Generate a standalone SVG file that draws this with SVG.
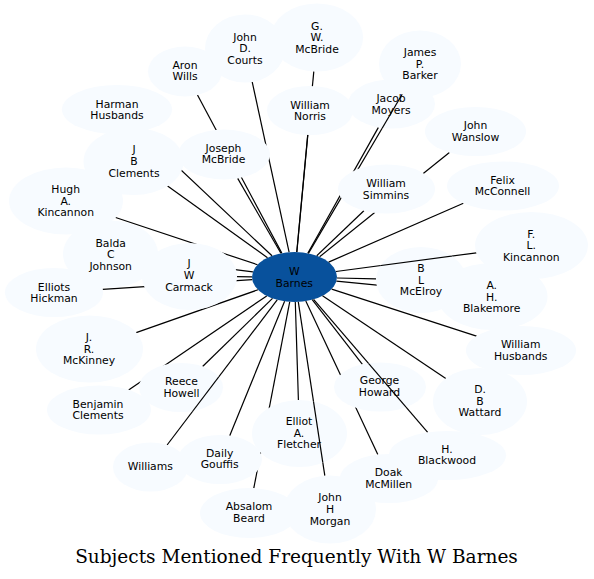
<svg xmlns="http://www.w3.org/2000/svg" width="594" height="579" viewBox="0 0 594 579">
<style>
.nb{fill:#f7fbff;stroke:none}
.hub{fill:#08519c;stroke:none}
.lbl{font-family:"DejaVu Sans","Liberation Sans",sans-serif;font-size:10.8px;fill:#000;text-anchor:middle}
.edge{stroke:#000;stroke-width:1.2;fill:none}
.title{font-family:"DejaVu Serif","Liberation Serif",serif;font-size:18.5px;fill:#000;text-anchor:middle}
</style>
<defs>
<g id="holes">
<ellipse id="h-gwm" cx="317" cy="37.5" rx="46" ry="34"/>
<ellipse id="h-courts" cx="245" cy="48.5" rx="40" ry="34"/>
<ellipse id="h-aron" cx="185" cy="71.5" rx="37" ry="25"/>
<ellipse id="h-barker" cx="420" cy="64" rx="41" ry="33.5"/>
<ellipse id="h-norris" cx="310" cy="110.5" rx="43" ry="24.5"/>
<ellipse id="h-jacob" cx="391.5" cy="104" rx="43.5" ry="24.5"/>
<ellipse id="h-harman" cx="117" cy="109.5" rx="55" ry="24.5"/>
<ellipse id="h-jmcb" cx="224" cy="154.5" rx="46" ry="25"/>
<ellipse id="h-jbc" cx="133.5" cy="161.5" rx="50" ry="33.5"/>
<ellipse id="h-wanslow" cx="475.5" cy="131.5" rx="50.5" ry="24.5"/>
<ellipse id="h-simmins" cx="386.5" cy="189" rx="48.5" ry="24.5"/>
<ellipse id="h-felix" cx="503" cy="186" rx="56" ry="24.5"/>
<ellipse id="h-hugh" cx="66" cy="201" rx="57" ry="33.5"/>
<ellipse id="h-balda" cx="110.5" cy="254" rx="47.5" ry="33.5"/>
<ellipse id="h-carmack" cx="189.5" cy="276.5" rx="47.5" ry="33.5"/>
<ellipse id="h-hickman" cx="54" cy="292.5" rx="49" ry="24.5"/>
<ellipse id="h-flk" cx="531.5" cy="245.5" rx="56.5" ry="33.5"/>
<ellipse id="h-mcelroy" cx="421" cy="280" rx="45" ry="33"/>
<ellipse id="h-blakemore" cx="492.5" cy="296.5" rx="55" ry="33.5"/>
<ellipse id="h-whusb" cx="521" cy="350.5" rx="55" ry="24.5"/>
<ellipse id="h-mckinney" cx="89.5" cy="349" rx="53.5" ry="33.5"/>
<ellipse id="h-reece" cx="181" cy="387.5" rx="42" ry="24.5"/>
<ellipse id="h-benj" cx="99" cy="410" rx="52" ry="24.5"/>
<ellipse id="h-ghoward" cx="380" cy="387" rx="46" ry="24.5"/>
<ellipse id="h-wattard" cx="480" cy="401.5" rx="47" ry="33.5"/>
<ellipse id="h-fletcher" cx="299.5" cy="433.5" rx="47.5" ry="33.5"/>
<ellipse id="h-blackwood" cx="447.5" cy="455.5" rx="58.5" ry="24.5"/>
<ellipse id="h-williams" cx="150.5" cy="467" rx="37.5" ry="24.5"/>
<ellipse id="h-gouffis" cx="220" cy="459.5" rx="42" ry="24.5"/>
<ellipse id="h-doak" cx="389" cy="478.5" rx="49" ry="24.5"/>
<ellipse id="h-absalom" cx="249" cy="513" rx="49" ry="25"/>
<ellipse id="h-morgan" cx="330" cy="509.5" rx="46" ry="34"/>
</g>
<mask id="m-all" maskUnits="userSpaceOnUse" x="0" y="0" width="594" height="579"><rect width="594" height="579" fill="#fff"/><use href="#holes" fill="#000"/></mask>
<mask id="m-jacob" maskUnits="userSpaceOnUse" x="0" y="0" width="594" height="579"><rect width="594" height="579" fill="#fff"/><use href="#holes" fill="#000"/><use href="#h-jacob" fill="#fff"/></mask>
<mask id="m-mcelroy" maskUnits="userSpaceOnUse" x="0" y="0" width="594" height="579"><rect width="594" height="579" fill="#fff"/><use href="#holes" fill="#000"/><use href="#h-mcelroy" fill="#fff"/></mask>
<mask id="m-ghoward" maskUnits="userSpaceOnUse" x="0" y="0" width="594" height="579"><rect width="594" height="579" fill="#fff"/><use href="#holes" fill="#000"/><use href="#h-ghoward" fill="#fff"/></mask>
<mask id="m-fletcher" maskUnits="userSpaceOnUse" x="0" y="0" width="594" height="579"><rect width="594" height="579" fill="#fff"/><use href="#holes" fill="#000"/><use href="#h-fletcher" fill="#fff"/></mask>
<mask id="m-reece" maskUnits="userSpaceOnUse" x="0" y="0" width="594" height="579"><rect width="594" height="579" fill="#fff"/><use href="#holes" fill="#000"/><use href="#h-reece" fill="#fff"/></mask>
</defs>
<rect width="594" height="579" fill="#fff"/>

<g id="n-gwm"><ellipse class="nb" cx="317" cy="37.5" rx="46" ry="34"/><text class="lbl"><tspan x="317" y="29.6">G.</tspan><tspan x="317" y="41.3">W.</tspan><tspan x="317" y="53">McBride</tspan></text></g>
<g id="n-courts"><ellipse class="nb" cx="245" cy="48.5" rx="40" ry="34"/><text class="lbl"><tspan x="245" y="40.6">John</tspan><tspan x="245" y="52.3">D.</tspan><tspan x="245" y="64">Courts</tspan></text></g>
<g id="n-aron"><ellipse class="nb" cx="185" cy="71.5" rx="37" ry="25"/><text class="lbl"><tspan x="185" y="68.7">Aron</tspan><tspan x="185" y="80.4">Wills</tspan></text></g>
<g id="n-barker"><ellipse class="nb" cx="420" cy="64" rx="41" ry="33.5"/><text class="lbl"><tspan x="420" y="55.9">James</tspan><tspan x="420" y="67.6">P.</tspan><tspan x="420" y="79.3">Barker</tspan></text></g>
<g id="n-norris"><ellipse class="nb" cx="310" cy="110.5" rx="43" ry="24.5"/><text class="lbl"><tspan x="310" y="108.5">William</tspan><tspan x="310" y="120.2">Norris</tspan></text></g>
<g id="n-jacob"><ellipse class="nb" cx="391.5" cy="104" rx="43.5" ry="24.5"/><text class="lbl"><tspan x="391" y="102">Jacob</tspan><tspan x="391" y="113.7">Moyers</tspan></text></g>
<g id="n-harman"><ellipse class="nb" cx="117" cy="109.5" rx="55" ry="24.5"/><text class="lbl"><tspan x="117" y="107.7">Harman</tspan><tspan x="117" y="119.4">Husbands</tspan></text></g>
<g id="n-jmcb"><ellipse class="nb" cx="224" cy="154.5" rx="46" ry="25"/><text class="lbl"><tspan x="223.5" y="151.5">Joseph</tspan><tspan x="223.5" y="163.2">McBride</tspan></text></g>
<g id="n-jbc"><ellipse class="nb" cx="133.5" cy="161.5" rx="50" ry="33.5"/><text class="lbl"><tspan x="134" y="153.4">J</tspan><tspan x="134" y="165.1">B</tspan><tspan x="134" y="176.8">Clements</tspan></text></g>
<g id="n-wanslow"><ellipse class="nb" cx="475.5" cy="131.5" rx="50.5" ry="24.5"/><text class="lbl"><tspan x="475.5" y="129">John</tspan><tspan x="475.5" y="140.7">Wanslow</tspan></text></g>
<g id="n-simmins"><ellipse class="nb" cx="386.5" cy="189" rx="48.5" ry="24.5"/><text class="lbl"><tspan x="386" y="186.9">William</tspan><tspan x="386" y="198.6">Simmins</tspan></text></g>
<g id="n-felix"><ellipse class="nb" cx="503" cy="186" rx="56" ry="24.5"/><text class="lbl"><tspan x="502.5" y="183.7">Felix</tspan><tspan x="502.5" y="195.4">McConnell</tspan></text></g>
<g id="n-hugh"><ellipse class="nb" cx="66" cy="201" rx="57" ry="33.5"/><text class="lbl"><tspan x="65.7" y="193">Hugh</tspan><tspan x="65.7" y="204.7">A.</tspan><tspan x="65.7" y="216.4">Kincannon</tspan></text></g>
<g id="n-balda"><ellipse class="nb" cx="110.5" cy="254" rx="47.5" ry="33.5"/><text class="lbl"><tspan x="110.7" y="246.6">Balda</tspan><tspan x="110.7" y="258.3">C</tspan><tspan x="110.7" y="270">Johnson</tspan></text></g>
<g id="n-carmack"><ellipse class="nb" cx="189.5" cy="276.5" rx="47.5" ry="33.5"/><text class="lbl"><tspan x="189" y="267.4">J</tspan><tspan x="189" y="279.1">W</tspan><tspan x="189" y="290.8">Carmack</tspan></text></g>
<g id="n-hickman"><ellipse class="nb" cx="54" cy="292.5" rx="49" ry="24.5"/><text class="lbl"><tspan x="54" y="290.7">Elliots</tspan><tspan x="54" y="302.4">Hickman</tspan></text></g>
<g id="n-flk"><ellipse class="nb" cx="531.5" cy="245.5" rx="56.5" ry="33.5"/><text class="lbl"><tspan x="531.3" y="237.6">F.</tspan><tspan x="531.3" y="249.3">L.</tspan><tspan x="531.3" y="261">Kincannon</tspan></text></g>
<g id="n-blakemore"><ellipse class="nb" cx="492.5" cy="296.5" rx="55" ry="33.5"/><text class="lbl"><tspan x="491.7" y="288.8">A.</tspan><tspan x="491.7" y="300.5">H.</tspan><tspan x="491.7" y="312.2">Blakemore</tspan></text></g>
<g id="n-mcelroy"><ellipse class="nb" cx="421" cy="280" rx="45" ry="33"/><text class="lbl"><tspan x="421" y="271.8">B</tspan><tspan x="421" y="283.5">L</tspan><tspan x="421" y="295.2">McElroy</tspan></text></g>
<g id="n-whusb"><ellipse class="nb" cx="521" cy="350.5" rx="55" ry="24.5"/><text class="lbl"><tspan x="520.7" y="348.3">William</tspan><tspan x="520.7" y="360">Husbands</tspan></text></g>
<g id="n-mckinney"><ellipse class="nb" cx="89.5" cy="349" rx="53.5" ry="33.5"/><text class="lbl"><tspan x="89" y="340.9">J.</tspan><tspan x="89" y="352.6">R.</tspan><tspan x="89" y="364.3">McKinney</tspan></text></g>
<g id="n-reece"><ellipse class="nb" cx="181" cy="387.5" rx="42" ry="24.5"/><text class="lbl"><tspan x="181.5" y="385">Reece</tspan><tspan x="181.5" y="396.7">Howell</tspan></text></g>
<g id="n-benj"><ellipse class="nb" cx="99" cy="410" rx="52" ry="24.5"/><text class="lbl"><tspan x="98" y="407.5">Benjamin</tspan><tspan x="98" y="419.2">Clements</tspan></text></g>
<g id="n-ghoward"><ellipse class="nb" cx="380" cy="387" rx="46" ry="24.5"/><text class="lbl"><tspan x="379.5" y="383.8">George</tspan><tspan x="379.5" y="395.5">Howard</tspan></text></g>
<g id="n-wattard"><ellipse class="nb" cx="480" cy="401.5" rx="47" ry="33.5"/><text class="lbl"><tspan x="480" y="393">D.</tspan><tspan x="480" y="404.7">B</tspan><tspan x="480" y="416.4">Wattard</tspan></text></g>
<g id="n-fletcher"><ellipse class="nb" cx="299.5" cy="433.5" rx="47.5" ry="33.5"/><text class="lbl"><tspan x="299" y="424.9">Elliot</tspan><tspan x="299" y="436.6">A.</tspan><tspan x="299" y="448.3">Fletcher</tspan></text></g>
<g id="n-doak"><ellipse class="nb" cx="389" cy="478.5" rx="49" ry="24.5"/><text class="lbl"><tspan x="388.7" y="476">Doak</tspan><tspan x="388.7" y="487.7">McMillen</tspan></text></g>
<g id="n-blackwood"><ellipse class="nb" cx="447.5" cy="455.5" rx="58.5" ry="24.5"/><text class="lbl"><tspan x="447" y="452.7">H.</tspan><tspan x="447" y="464.4">Blackwood</tspan></text></g>
<g id="n-williams"><ellipse class="nb" cx="150.5" cy="467" rx="37.5" ry="24.5"/><text class="lbl"><tspan x="150.3" y="470.3">Williams</tspan></text></g>
<g id="n-gouffis"><ellipse class="nb" cx="220" cy="459.5" rx="42" ry="24.5"/><text class="lbl"><tspan x="219.7" y="456.7">Daily</tspan><tspan x="219.7" y="468.4">Gouffis</tspan></text></g>
<g id="n-absalom"><ellipse class="nb" cx="249" cy="513" rx="49" ry="25"/><text class="lbl"><tspan x="249" y="510.3">Absalom</tspan><tspan x="249" y="522">Beard</tspan></text></g>
<g id="n-morgan"><ellipse class="nb" cx="330" cy="509.5" rx="46" ry="34"/><text class="lbl"><tspan x="330" y="501.4">John</tspan><tspan x="330" y="513.1">H</tspan><tspan x="330" y="524.8">Morgan</tspan></text></g>
<g id="n-wbarnes"><ellipse class="hub" cx="294.5" cy="277" rx="42.5" ry="25"/><text class="lbl"><tspan x="294.3" y="275">W</tspan><tspan x="294.3" y="286.7">Barnes</tspan></text></g>

<g id="connectors">
<g mask="url(#m-all)">
<line class="edge" x1="296.8" y1="252.0" x2="313.8" y2="71.4"/>
<line class="edge" x1="289.1" y1="252.2" x2="252.2" y2="81.9"/>
<line class="edge" x1="281.8" y1="253.1" x2="197.5" y2="95.0"/>
<line class="edge" x1="296.8" y1="252.0" x2="307.7" y2="135.0"/>
<line class="edge" x1="307.8" y1="253.3" x2="378.4" y2="127.4"/>
<line class="edge" x1="272.0" y1="255.8" x2="140.5" y2="131.7"/>
<line class="edge" x1="280.9" y1="253.3" x2="237.7" y2="178.4"/>
<line class="edge" x1="267.5" y1="257.7" x2="167.6" y2="186.0"/>
<line class="edge" x1="319.6" y1="256.8" x2="449.4" y2="152.5"/>
<line class="edge" x1="316.8" y1="255.7" x2="363.9" y2="210.7"/>
<line class="edge" x1="328.6" y1="262.1" x2="463.4" y2="203.3"/>
<line class="edge" x1="257.5" y1="264.7" x2="115.6" y2="217.5"/>
<line class="edge" x1="252.9" y1="271.8" x2="157.3" y2="259.8"/>
<line class="edge" x1="252.0" y1="276.8" x2="237.0" y2="276.7"/>
<line class="edge" x1="252.3" y1="279.7" x2="102.6" y2="289.4"/>
<line class="edge" x1="337.0" y1="278.0" x2="376.0" y2="278.9"/>
<line class="edge" x1="336.4" y1="281.1" x2="438.2" y2="291.2"/>
<line class="edge" x1="331.7" y1="289.1" x2="476.5" y2="336.1"/>
<line class="edge" x1="258.0" y1="289.8" x2="136.2" y2="332.6"/>
<line class="edge" x1="272.5" y1="298.4" x2="202.6" y2="366.5"/>
<line class="edge" x1="266.7" y1="295.9" x2="128.6" y2="389.9"/>
<line class="edge" x1="312.2" y1="299.7" x2="362.4" y2="364.4"/>
<line class="edge" x1="322.5" y1="295.8" x2="445.8" y2="378.5"/>
<line class="edge" x1="295.3" y1="302.0" x2="298.4" y2="400.0"/>
<line class="edge" x1="284.6" y1="301.3" x2="229.7" y2="435.7"/>
<line class="edge" x1="305.8" y1="301.1" x2="377.8" y2="454.6"/>
<line class="edge" x1="289.7" y1="301.8" x2="253.8" y2="488.1"/>
</g>
<line class="edge" mask="url(#m-jacob)" x1="308.4" y1="253.4" x2="402.2" y2="94.2"/>
<line class="edge" mask="url(#m-mcelroy)" x1="336.0" y1="271.5" x2="476.4" y2="252.8"/>
<line class="edge" mask="url(#m-ghoward)" x1="313.6" y1="299.3" x2="427.7" y2="432.4"/>
<line class="edge" mask="url(#m-fletcher)" x1="298.3" y1="301.9" x2="324.8" y2="475.7"/>
<line class="edge" mask="url(#m-reece)" x1="277.2" y1="299.8" x2="167.1" y2="445.0"/>
</g>

<text class="title" x="296.5" y="562.5">Subjects Mentioned Frequently With W Barnes</text>
</svg>
